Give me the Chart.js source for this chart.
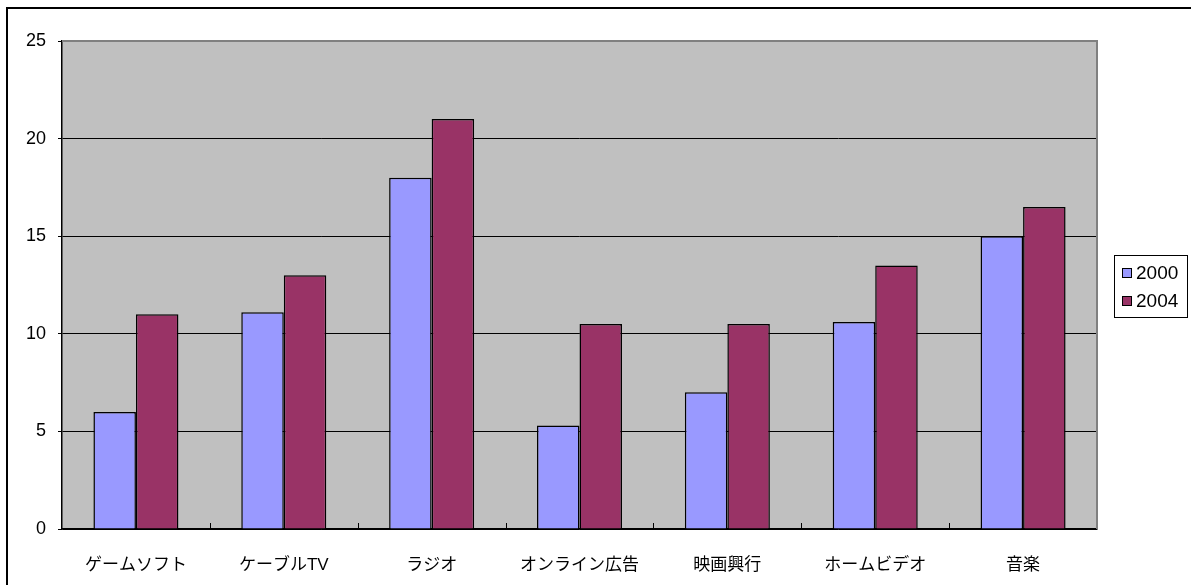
<!DOCTYPE html>
<html lang="ja">
<head>
    <meta charset="UTF-8">
    <title>メディア別市場規模</title>
    <script src="https://cdn.jsdelivr.net/npm/chart.js"></script>
    <style>
        body { margin: 0; background: #fff; }
        canvas { display: block; }
    </style>
</head>
<body>
    <canvas id="chart" width="1191" height="585"></canvas>

    <script>
        // データ
        const categories = ['ゲームソフト', 'ケーブルTV', 'ラジオ', 'オンライン広告', '映画興行', 'ホームビデオ', '音楽'];
        const seriesNames = ['2000', '2004'];
        const values2000 = [6, 11.1, 18, 5.3, 7, 10.6, 15];
        const values2004 = [11, 13, 21, 10.5, 10.5, 13.5, 16.5];
        const yTicks = [0, 5, 10, 15, 20, 25];

        const FONT = "'Liberation Sans', Arial, 'Noto Sans CJK JP', sans-serif";

        // プロットエリアの灰色背景と枠、x軸の目盛り
        const plotArea = {
            id: 'plotArea',
            beforeDraw(chart) {
                const { ctx, chartArea: a } = chart;
                ctx.save();
                ctx.fillStyle = '#ffffff';
                ctx.fillRect(0, 0, chart.width, chart.height);
                ctx.fillStyle = '#c0c0c0';
                ctx.fillRect(a.left, a.top, a.right - a.left, a.bottom - a.top);
                ctx.restore();
            },
            afterDatasetsDraw(chart) {
                const { ctx, chartArea: a } = chart;
                const x = chart.scales.x;
                ctx.save();
                // 上と右の枠線
                ctx.strokeStyle = '#808080';
                ctx.lineWidth = 2;
                ctx.beginPath();
                ctx.moveTo(a.left, a.top);
                ctx.lineTo(a.right, a.top);
                ctx.lineTo(a.right, a.bottom);
                ctx.stroke();
                // カテゴリ間の目盛り（内向き）
                ctx.strokeStyle = '#000';
                ctx.lineWidth = 1;
                const step = (a.right - a.left) / categories.length;
                for (let i = 1; i < categories.length; i++) {
                    const px = Math.round(x.left + step * i) + 0.5;
                    ctx.beginPath();
                    ctx.moveTo(px, a.bottom);
                    ctx.lineTo(px, a.bottom - 6);
                    ctx.stroke();
                }
                ctx.restore();
            },
            afterDraw(chart) {
                const ctx = chart.ctx;
                ctx.save();
                // 外枠（上と左）
                ctx.strokeStyle = '#000';
                ctx.lineWidth = 2;
                ctx.beginPath();
                ctx.moveTo(7, chart.height);
                ctx.lineTo(7, 8);
                ctx.lineTo(chart.width, 8);
                ctx.stroke();

                // 凡例
                const lx = 1114, ly = 255, lw = 73, lh = 62;
                ctx.lineWidth = 1;
                ctx.strokeRect(lx + 0.5, ly + 0.5, lw, lh);
                ctx.font = '19px ' + FONT;
                ctx.textBaseline = 'middle';
                ctx.fillStyle = '#000';
                chart.data.datasets.forEach((ds, i) => {
                    const cy = ly + 18 + i * 28;
                    ctx.fillStyle = ds.backgroundColor;
                    ctx.fillRect(lx + 8, cy - 5, 10, 10);
                    ctx.strokeRect(lx + 8.5, cy - 4.5, 9, 9);
                    ctx.fillStyle = '#000';
                    ctx.fillText(ds.label, lx + 22, cy + 1);
                });
                ctx.restore();
            }
        };

        new Chart(document.getElementById('chart'), {
            type: 'bar',
            data: {
                labels: categories,
                datasets: [
                    {
                        label: seriesNames[0],
                        data: values2000,
                        backgroundColor: '#9999ff',
                        borderColor: '#000',
                        borderWidth: 1.5,
                        categoryPercentage: 0.575,
                        barPercentage: 1.0
                    },
                    {
                        label: seriesNames[1],
                        data: values2004,
                        backgroundColor: '#993366',
                        borderColor: '#000',
                        borderWidth: 1.5,
                        categoryPercentage: 0.575,
                        barPercentage: 1.0
                    }
                ]
            },
            options: {
                responsive: false,
                animation: false,
                layout: { padding: { top: 41, right: 94, left: 0, bottom: 0 } },
                plugins: {
                    legend: { display: false },
                    tooltip: { enabled: false }
                },
                scales: {
                    x: {
                        grid: { display: false },
                        border: { color: '#000', width: 1.5 },
                        ticks: {
                            color: '#000',
                            padding: 18,
                            maxRotation: 0,
                            font: { size: 17, family: FONT }
                        },
                        afterFit(scale) { scale.height = 585 - 529; }
                    },
                    y: {
                        min: 0,
                        max: 25,
                        afterBuildTicks(scale) {
                            scale.ticks = yTicks.map(v => ({ value: v }));
                        },
                        grid: {
                            color: ctx => ctx.tick && ctx.tick.value === 25 ? 'rgba(0,0,0,0)' : '#000',
                            tickColor: '#000',
                            tickLength: 4,
                            lineWidth: 1
                        },
                        border: { color: '#000', width: 1.5 },
                        ticks: {
                            color: '#000',
                            padding: 12,
                            font: { size: 18, family: FONT }
                        },
                        afterFit(scale) { scale.width = 62; }
                    }
                }
            },
            plugins: [plotArea]
        });
    </script>
</body>
</html>
